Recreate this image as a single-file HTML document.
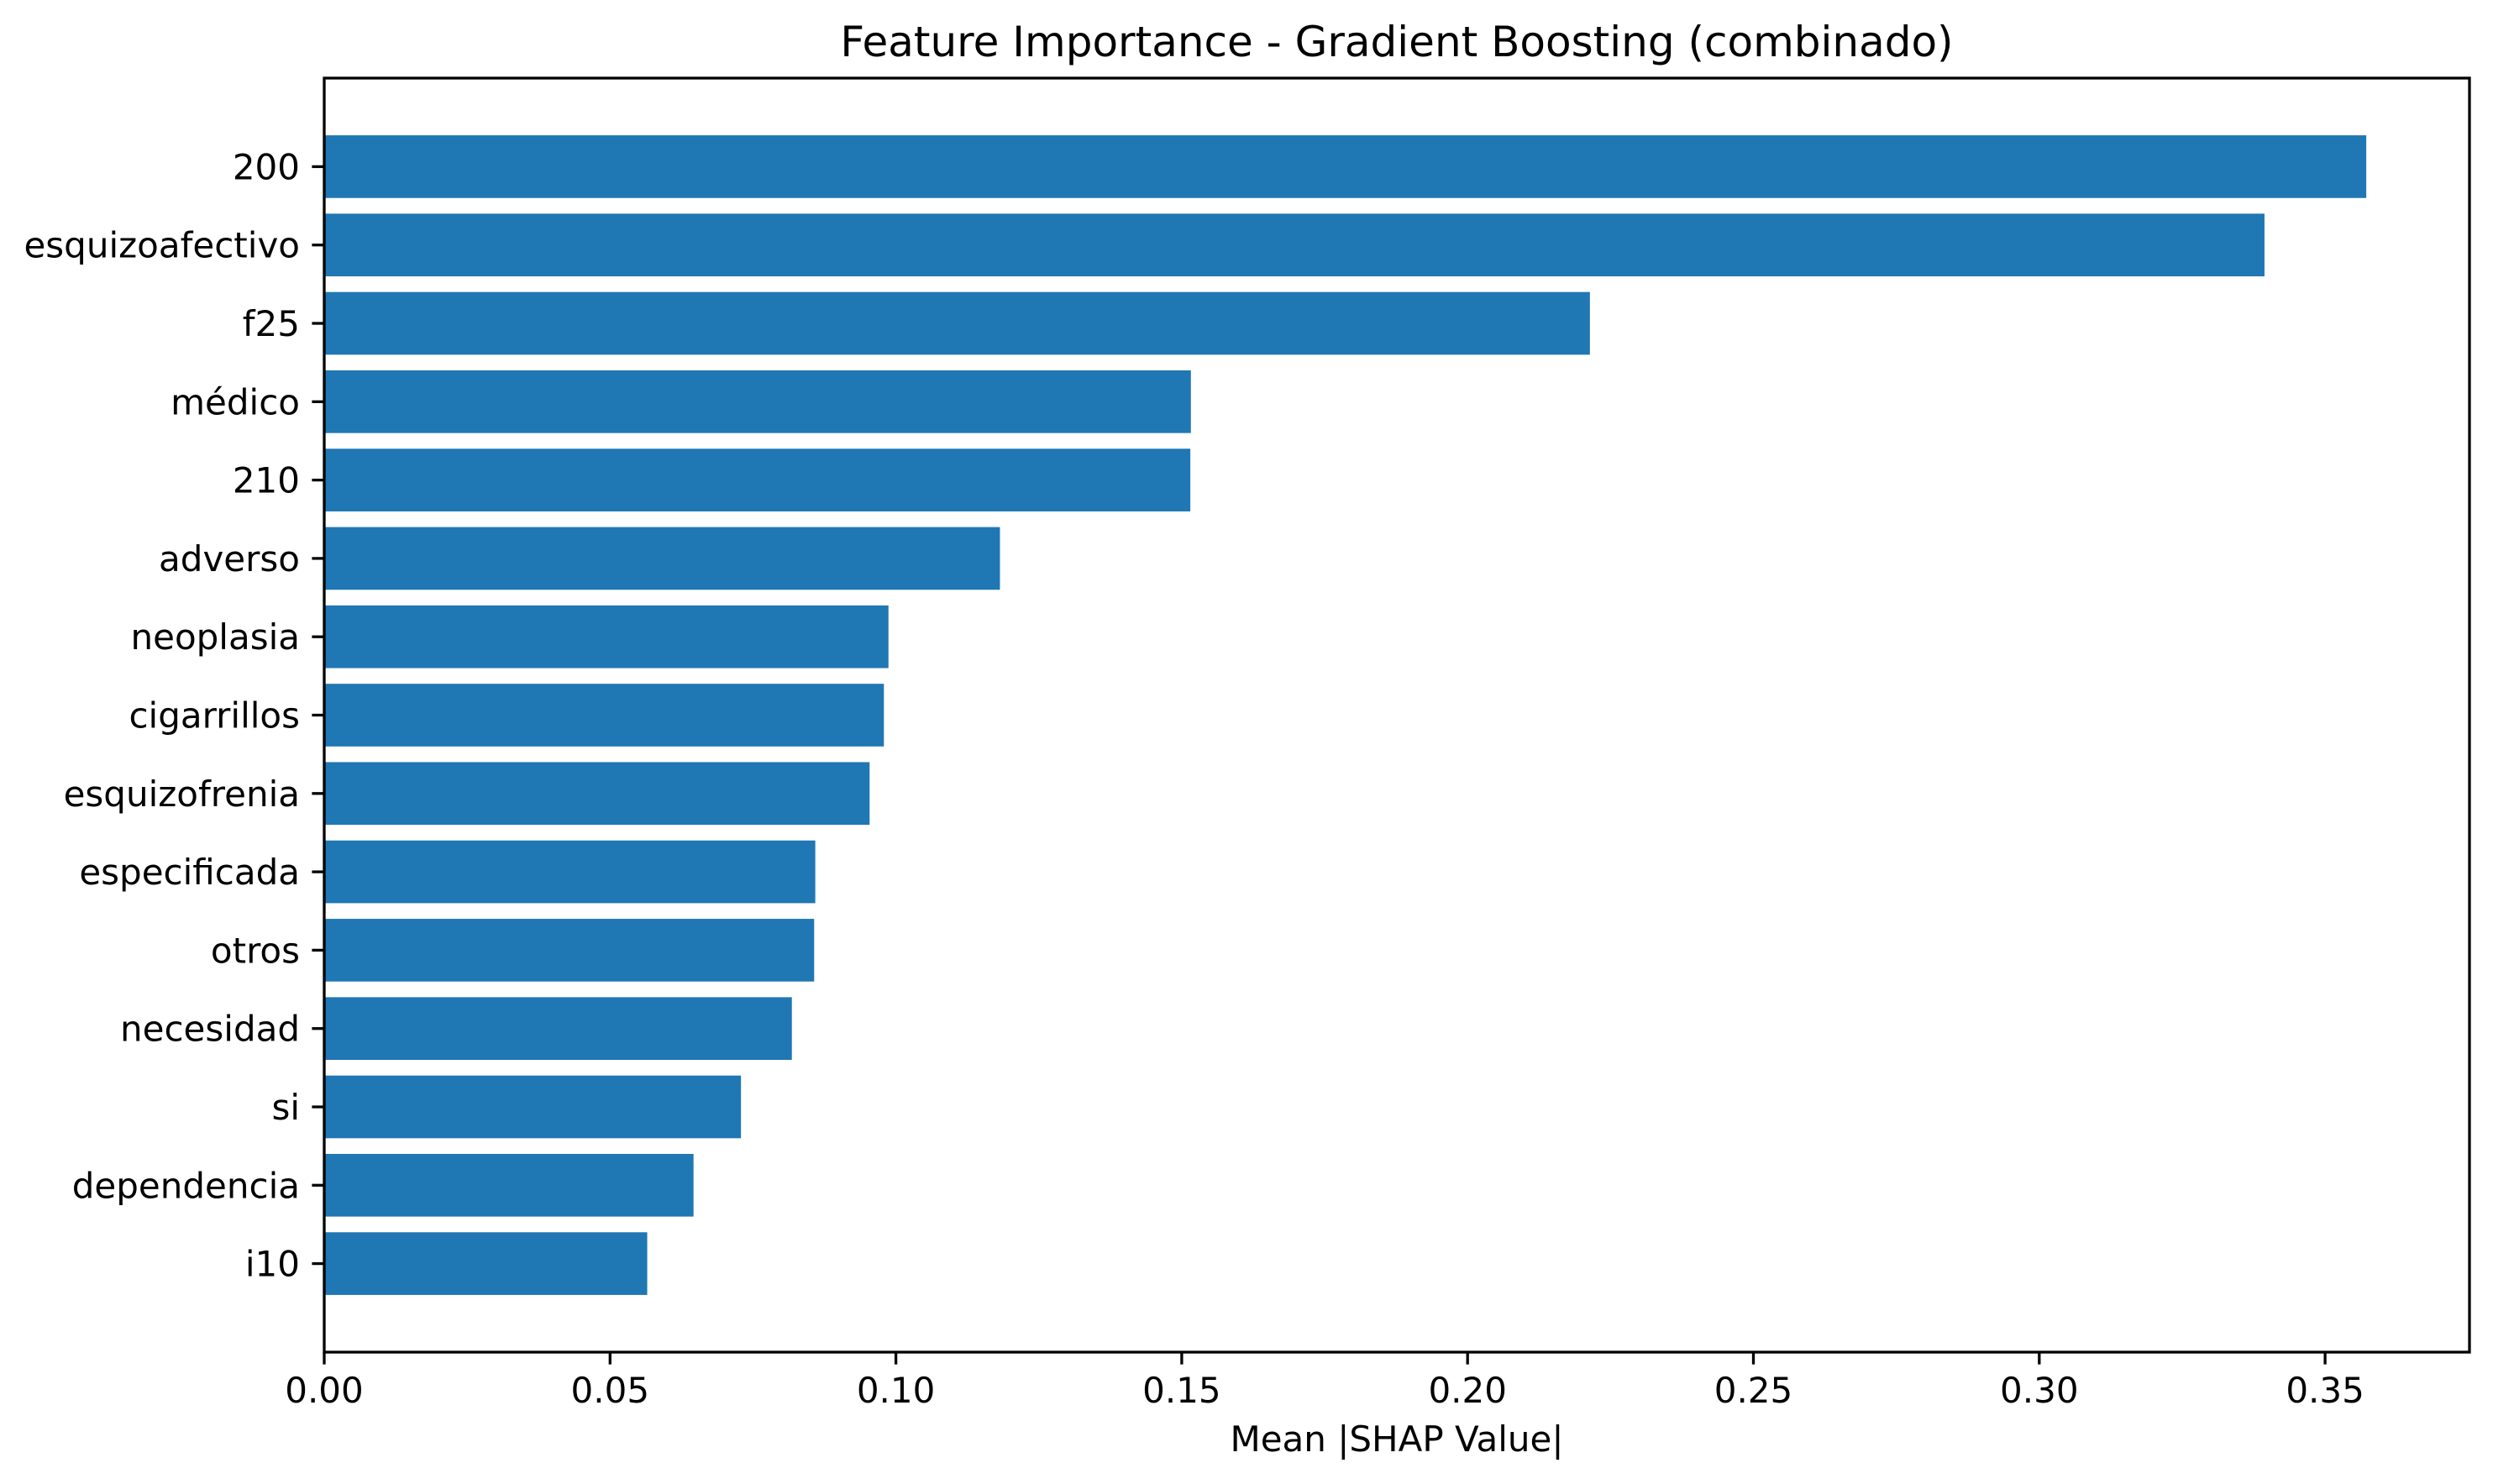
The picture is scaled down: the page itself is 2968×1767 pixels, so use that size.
<!DOCTYPE html>
<html><head><meta charset="utf-8"><style>
html,body{margin:0;padding:0;background:#fff;}
svg{display:block;}
text{font-family:"DejaVu Sans","Liberation Sans",sans-serif;fill:#000;}
</style></head><body>
<svg id="chart" width="2968" height="1767" viewBox="0 0 2968 1767" xmlns="http://www.w3.org/2000/svg">
<rect x="0" y="0" width="2968" height="1767" fill="#fff"/>
<text x="1663" y="67" font-size="50" text-anchor="middle">Feature Importance - Gradient Boosting (combinado)</text>
<g id="bars"></g>
<g id="yticks"></g>
<g id="xticks"></g>
<rect x="386" y="93" width="2554" height="1517" fill="none" stroke="#000" stroke-width="3.3"/>
<text x="1663" y="1728" font-size="42" text-anchor="middle">Mean |SHAP Value|</text>
</svg>
<script>
const categories = ["200","esquizoafectivo","f25","médico","210","adverso","neoplasia","cigarrillos","esquizofrenia","especificada","otros","necesidad","si","dependencia","i10"];
const values = [0.3572,0.3394,0.2214,0.1516,0.1515,0.1182,0.0987,0.0979,0.0954,0.0859,0.0857,0.0818,0.0729,0.0646,0.0565];
const xTicks = [0,0.05,0.10,0.15,0.20,0.25,0.30,0.35];
const xTickLabels = ["0.00","0.05","0.10","0.15","0.20","0.25","0.30","0.35"];

const NS = "http://www.w3.org/2000/svg";
const x0 = 386, x1 = 2940, y0 = 93, y1 = 1610;
const xMax = (x1 - x0) / 6806;
function xScale(v){ return x0 + v / xMax * (x1 - x0); }
const n = categories.length;
const yMin = -0.5 - 0.63, yMax = n - 1 + 0.5 + 0.63;
function yScale(i){ return y0 + (i - yMin) / (yMax - yMin) * (y1 - y0); }
const bandH = yScale(0.8) - yScale(0);

const gb = document.getElementById('bars');
const gy = document.getElementById('yticks');
const gx = document.getElementById('xticks');
values.forEach((v, i) => {
  const r = document.createElementNS(NS, 'rect');
  r.setAttribute('x', x0);
  r.setAttribute('y', yScale(i) - bandH / 2);
  r.setAttribute('width', xScale(v) - x0);
  r.setAttribute('height', bandH);
  r.setAttribute('fill', '#1f77b4');
  
  
  gb.appendChild(r);
  const t = document.createElementNS(NS, 'line');
  t.setAttribute('x1', x0 - 14.6); t.setAttribute('x2', x0);
  t.setAttribute('y1', yScale(i)); t.setAttribute('y2', yScale(i));
  t.setAttribute('stroke', '#000'); t.setAttribute('stroke-width', '3.3');
  
  
  gy.appendChild(t);
  const l = document.createElementNS(NS, 'text');
  l.setAttribute('x', x0 - 29); l.setAttribute('y', yScale(i) + 15);
  l.setAttribute('font-size', '42'); l.setAttribute('text-anchor', 'end');
  l.textContent = categories[i];
  
  
  gy.appendChild(l);
});
xTicks.forEach((v, i) => {
  const t = document.createElementNS(NS, 'line');
  t.setAttribute('x1', xScale(v)); t.setAttribute('x2', xScale(v));
  t.setAttribute('y1', y1); t.setAttribute('y2', y1 + 14.6);
  t.setAttribute('stroke', '#000'); t.setAttribute('stroke-width', '3.3');
  
  
  gx.appendChild(t);
  const l = document.createElementNS(NS, 'text');
  l.setAttribute('x', xScale(v)); l.setAttribute('y', 1670);
  l.setAttribute('font-size', '42'); l.setAttribute('text-anchor', 'middle');
  l.textContent = xTickLabels[i];
  
  
  gx.appendChild(l);
});
</script>
</body></html>
